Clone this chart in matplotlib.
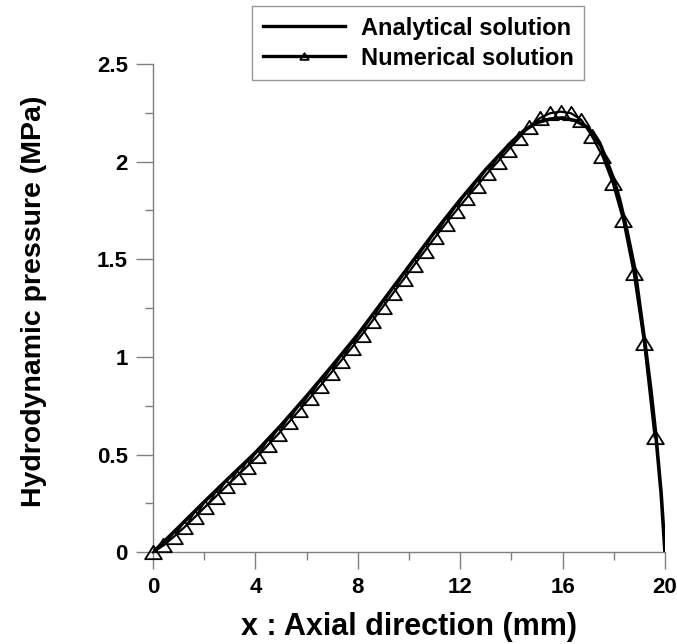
import matplotlib
matplotlib.use("Agg")
import matplotlib.pyplot as plt
from matplotlib.path import Path
from matplotlib.ticker import MultipleLocator

# Analytical pressure profile along the axial direction
x_analytical = [0, 1, 2, 3, 4, 5, 6, 7, 8, 9, 10, 11, 12, 13, 14, 14.5, 15,
                15.5, 16, 16.5, 17, 17.5, 18, 18.24, 18.5, 18.83, 19.0, 19.22,
                19.45, 19.65, 19.85, 20]
p_analytical = [0, 0.128, 0.258, 0.385, 0.51, 0.65, 0.80, 0.955, 1.115, 1.29,
                1.465, 1.64, 1.805, 1.96, 2.10, 2.16, 2.20, 2.218, 2.224, 2.21,
                2.175, 2.08, 1.91, 1.80, 1.655, 1.445, 1.28, 1.07, 0.83, 0.59,
                0.30, 0]

# Numerical solution at the mesh nodes
x_numerical = [0.000, 0.408, 0.816, 1.224, 1.633, 2.041, 2.449, 2.857, 3.265,
               3.673, 4.082, 4.490, 4.898, 5.306, 5.714, 6.122, 6.531, 6.939,
               7.347, 7.755, 8.163, 8.571, 8.980, 9.388, 9.796, 10.204, 10.612,
               11.020, 11.429, 11.837, 12.245, 12.653, 13.061, 13.469, 13.878,
               14.286, 14.694, 15.102, 15.510, 15.918, 16.327, 16.735, 17.143,
               17.551, 17.959, 18.367, 18.776, 19.184, 19.592]
p_numerical = [0, 0.035, 0.08, 0.128, 0.18, 0.233, 0.285, 0.337, 0.388, 0.439,
               0.491, 0.549, 0.606, 0.666, 0.727, 0.789, 0.852, 0.916, 0.981,
               1.046, 1.114, 1.185, 1.257, 1.328, 1.399, 1.471, 1.542, 1.613,
               1.681, 1.748, 1.813, 1.876, 1.941, 2.0, 2.06, 2.12, 2.179, 2.222,
               2.248, 2.256, 2.248, 2.214, 2.13, 2.03, 1.89, 1.70, 1.43, 1.07,
               0.59]

x_ticks = [0, 4, 8, 12, 16, 20]
y_ticks = [0, 0.5, 1, 1.5, 2, 2.5]
y_tick_labels = ["0", "0.5", "1", "1.5", "2", "2.5"]

plt.rcParams["font.family"] = ["Liberation Sans", "DejaVu Sans"]
plt.rcParams["font.weight"] = "bold"

# Hollow triangle, a little wider than tall
tri = Path([(0, 0.8), (-1, -0.8), (1, -0.8), (0, 0.8)],
           [Path.MOVETO, Path.LINETO, Path.LINETO, Path.CLOSEPOLY])

fig = plt.figure(figsize=(6.77, 6.44), dpi=100)
ax = fig.add_axes([153 / 677, 1 - 552.3 / 644, 512 / 677, 488.3 / 644])

ax.plot(x_analytical, p_analytical, color="black", lw=2.6,
        solid_joinstyle="round", label="Analytical solution", zorder=3)
ax.plot(x_numerical, p_numerical, color="black", lw=1.6, marker=tri,
        markersize=12, markerfacecolor="none", markeredgecolor="black",
        markeredgewidth=1.3, label="Numerical solution", clip_on=False,
        zorder=4)

ax.set_xlim(0, 20)
ax.set_ylim(0, 2.5)
ax.set_xticks(x_ticks)
ax.set_yticks(y_ticks)
ax.set_yticklabels(y_tick_labels)
ax.xaxis.set_minor_locator(MultipleLocator(2))
ax.yaxis.set_minor_locator(MultipleLocator(0.25))

gray = "#7f7f7f"
for side in ("top", "right"):
    ax.spines[side].set_visible(False)
for side in ("left", "bottom"):
    ax.spines[side].set_color(gray)
    ax.spines[side].set_linewidth(1.0)

ax.tick_params(which="major", direction="out", length=12, width=1.0,
               color=gray, labelsize=16, labelcolor="black")
ax.tick_params(which="minor", direction="out", length=6, width=1.0,
               color=gray)
ax.tick_params(axis="y", which="major", pad=6)
ax.tick_params(axis="x", which="major", pad=6)
for lbl in ax.get_xticklabels() + ax.get_yticklabels():
    lbl.set_fontweight("bold")

ax.set_xlabel("x : Axial direction (mm)", fontsize=22, fontweight="bold",
              labelpad=10)
ax.set_ylabel("Hydrodynamic pressure (MPa)", fontsize=20.5,
              fontweight="bold")
ax.yaxis.set_label_coords(-0.208, 0.513)

leg = fig.legend(loc="upper left", bbox_to_anchor=(252 / 677, 1 - 6 / 644),
                 borderaxespad=0, fontsize=17, frameon=True, fancybox=False,
                 edgecolor=gray, handlelength=3.5, handletextpad=0.65,
                 borderpad=0.45, labelspacing=0.3, markerscale=0.5)
leg.get_frame().set_linewidth(1.0)
for line in leg.get_lines():
    line.set_linewidth(2.4)
for t in leg.get_texts():
    t.set_fontweight("bold")

fig.savefig("out.png", dpi=100)
